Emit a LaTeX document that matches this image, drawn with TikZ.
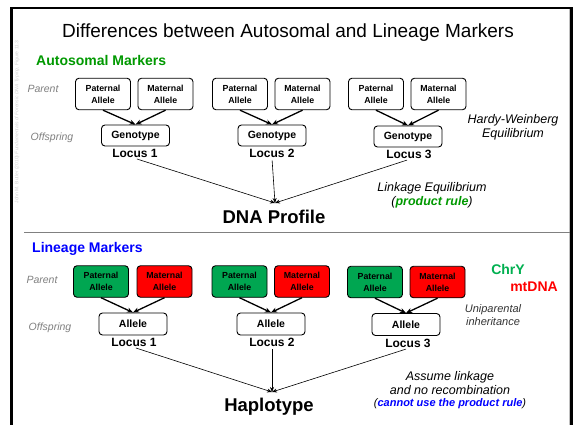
\documentclass[tikz,border=0pt]{standalone}
\usepackage{fontspec}
\setmainfont{Liberation Sans}
\usetikzlibrary{arrows.meta}
\definecolor{agreen}{RGB}{0,153,0}
\definecolor{lblue}{RGB}{0,0,255}
\definecolor{boxgreen}{RGB}{0,166,81}
\definecolor{boxred}{RGB}{255,0,0}
\definecolor{chrgreen}{RGB}{0,176,80}
\definecolor{lblgray}{RGB}{128,128,128}
\definecolor{wmgray}{RGB}{210,210,210}
\newcommand{\fsz}[2]{\fontsize{#1}{#2}\selectfont}
\begin{document}
\begin{tikzpicture}[x=1pt,y=-1pt,
  pbox/.style={draw=black, line width=0.9pt, rounded corners=3.5pt, minimum width=55pt, minimum height=31.5pt, inner sep=0pt, align=center, font=\fsz{8.8}{12}\bfseries},
  cbox/.style={draw=black, line width=0.9pt, rounded corners=3.5pt, minimum width=68pt, minimum height=21pt, inner sep=0pt, font=\fsz{10.5}{12}\bfseries},
  locus/.style={font=\fsz{12}{14}\bfseries, inner sep=1pt},
  side/.style={font=\fsz{10.5}{12}\itshape, text=lblgray, inner sep=0pt},
  note/.style={font=\fsz{12.5}{14}\itshape, align=center, inner sep=0pt},
  big/.style={font=\fsz{18.5}{20}\bfseries, inner sep=0pt},
  inh/.style={line width=1.3pt, -{Stealth[length=6pt,width=5pt]}},
  comb/.style={line width=0.6pt, shorten <=2pt, -{Stealth[length=5pt,width=4pt]}}
]
\useasboundingbox (0,0) rectangle (578,425);
\fill[white] (0,0) rectangle (578,425);
% frame
\draw[lblgray!50, line width=0.8pt] (569.3,9) -- (569.3,425);
\draw[black, line width=2.7pt] (11.5,425) -- (11.5,8) -- (571.7,8) -- (571.7,425);
\draw[lblgray, line width=0.9pt] (24,232.5) -- (570,232.5);
% watermark
\node[rotate=90, text=wmgray, font=\fsz{5}{6}, inner sep=0pt] (wm) at (17,122) {John M. Butler (2010) \textit{Fundamentals of Forensic DNA Typing}, Figure 11.3};
% title
\node[font=\fsz{19}{21}, inner sep=0pt] (title) at (288,33) {Differences between Autosomal and Lineage Markers};
% ---------------- Autosomal
\node[anchor=west, font=\fsz{14}{16}\bfseries, text=agreen, inner sep=0pt] (auto) at (36,60) {Autosomal Markers};
\node[side] (par1) at (43,89) {Parent};
\node[side] (off1) at (52,138) {Offspring};

\node[pbox] (ap1) at (103,94) {Paternal\\Allele};
\node[pbox] (am1) at (165.5,94) {Maternal\\Allele};
\node[pbox] (ap2) at (240,94) {Paternal\\Allele};
\node[pbox] (am2) at (302.5,94) {Maternal\\Allele};
\node[pbox] (ap3) at (376,94) {Paternal\\Allele};
\node[pbox] (am3) at (438.5,94) {Maternal\\Allele};

\node[cbox] (g1) at (135.5,135.5) {Genotype};
\node[cbox] (g2) at (272,135.5) {Genotype};
\node[cbox] (g3) at (408,136.5) {Genotype};

\node[locus] (l1) at (135,153) {Locus 1};
\node[locus] (l2) at (272,153) {Locus 2};
\node[locus] (l3) at (409,154) {Locus 3};

\draw[inh] (ap1.south) -- (g1.north);
\draw[inh] (am1.south) -- (g1.north);
\draw[inh] (ap2.south) -- (g2.north);
\draw[inh] (am2.south) -- (g2.north);
\draw[inh] (ap3.south) -- (g3.north);
\draw[inh] (am3.south) -- (g3.north);

\node[big] (dna) at (274,216.5) {DNA Profile};
\coordinate (dnatip) at (275,203);
\draw[comb] (l1.south) -- (dnatip);
\draw[comb] (l2.south) -- (dnatip);
\draw[comb] (l3.south) -- (dnatip);

\node[note] (hw) at (513,127.5) {Hardy-Weinberg\\Equilibrium};
\node[note] (le) at (432,195) {Linkage Equilibrium\\(\textcolor{agreen}{\bfseries product rule})};

% ---------------- Lineage
\node[anchor=west, font=\fsz{14}{16}\bfseries, text=lblue, inner sep=0pt] (lin) at (32,249) {Lineage Markers};
\node[side] (par2) at (42,280) {Parent};
\node[side] (off2) at (50,328) {Offspring};

\node[pbox, fill=boxgreen] (lp1) at (101,281.5) {Paternal\\Allele};
\node[pbox, fill=boxred] (lm1) at (164.5,281.5) {Maternal\\Allele};
\node[pbox, fill=boxgreen] (lp2) at (239.5,281.5) {Paternal\\Allele};
\node[pbox, fill=boxred] (lm2) at (302,281.5) {Maternal\\Allele};
\node[pbox, fill=boxgreen] (lp3) at (375,282) {Paternal\\Allele};
\node[pbox, fill=boxred] (lm3) at (437.5,282) {Maternal\\Allele};

\node[cbox, minimum height=22pt] (a1) at (133,324) {Allele};
\node[cbox, minimum height=22pt] (a2) at (271,324) {Allele};
\node[cbox, minimum height=22pt] (a3) at (406,324.5) {Allele};

\node[locus] (k1) at (134,342) {Locus 1};
\node[locus] (k2) at (272,342) {Locus 2};
\node[locus] (k3) at (408,343) {Locus 3};

\draw[inh] (lp1.south) -- (a1.north);
\draw[inh] (lm1.south) -- (a1.north);
\draw[inh] (lp2.south) -- (a2.north);
\draw[inh] (lm2.south) -- (a2.north);
\draw[inh] (lp3.south) -- (a3.north);
\draw[inh] (lm3.south) -- (a3.north);

\node[big] (hap) at (269,406.5) {Haplotype};
\coordinate (haptip) at (272,392);
\draw[comb] (k1.south) -- (haptip);
\draw[comb] (k2.south) -- (haptip);
\draw[comb] (k3.south) -- (haptip);

\node[font=\fsz{14}{16}\bfseries, text=chrgreen, inner sep=0pt] (chry) at (508,269) {ChrY};
\node[font=\fsz{14}{16}\bfseries, text=boxred, inner sep=0pt] (mt) at (534,287) {mtDNA};
\node[font=\fsz{11}{12.5}\itshape, align=center, inner sep=0pt, text=black!80] (uni) at (493,315) {Uniparental\\inheritance};
\node[note] (asm) at (450,383.5) {Assume linkage\\and no recombination};
\node[font=\fsz{11}{12}\itshape, inner sep=0pt] (cant) at (450,404) {(\textcolor{lblue}{\bfseries cannot use the product rule})};
\end{tikzpicture}
\end{document}
